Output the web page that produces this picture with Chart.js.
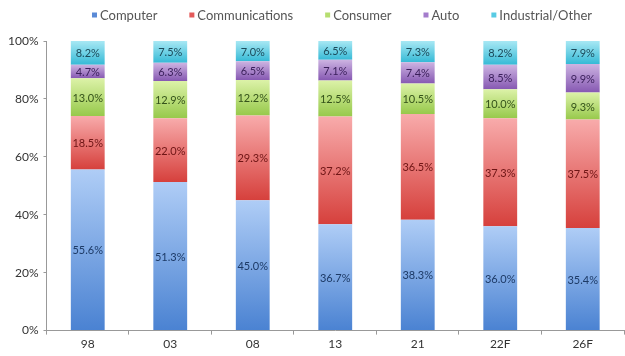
<!DOCTYPE html>
<html>
<head>
<meta charset="utf-8">
<script src="https://cdn.jsdelivr.net/npm/chart.js@4.4.1/dist/chart.umd.min.js"></script>
<style>
  html, body { margin: 0; padding: 0; background: #fff; }
  #wrap { width: 625px; height: 356px; }
</style>
</head>
<body>
<div id="wrap"><canvas id="cuota-chart" width="625" height="356"></canvas></div>
<script>
// categorías (años) y participación de cada segmento en %
const anios = ['98', '03', '08', '13', '21', '22F', '26F'];
const computer = [55.6, 51.3, 45.0, 36.7, 38.3, 36.0, 35.4];
const communications = [18.5, 22.0, 29.3, 37.2, 36.5, 37.3, 37.5];
const consumer = [13.0, 12.9, 12.2, 12.5, 10.5, 10.0, 9.3];
const auto = [4.7, 6.3, 6.5, 7.1, 7.4, 8.5, 9.9];
const industrial = [8.2, 7.5, 7.0, 6.5, 7.3, 8.2, 7.9];
const yTicks = [0, 20, 40, 60, 80, 100];

const series = [
    { label: 'Computer', data: computer, top: '#afcdf6', bottom: '#4a82d2', legend: '#5a8ad6', text: '#1d3a66' },
    { label: 'Communications', data: communications, top: '#f8abab', bottom: '#d6403c', legend: '#e45a5a', text: '#6e1515' },
    { label: 'Consumer', data: consumer, top: '#dcf2a8', bottom: '#97c94b', legend: '#b6de70', text: '#34521a' },
    { label: 'Auto', data: auto, top: '#cdb4e2', bottom: '#8658b2', legend: '#a47ccc', text: '#3a1f5a' },
    { label: 'Industrial/Other', data: industrial, top: '#a8e8f4', bottom: '#36bad6', legend: '#58cbe4', text: '#1c4a5a' }
];

// degradado vertical dentro de cada segmento apilado
const gradiente = (ctx, s, i) => {
    const chart = ctx.chart;
    if (!chart.chartArea || ctx.dataIndex === undefined) return s.legend;
    const y = chart.scales.y;
    let base = 0;
    for (let k = 0; k < i; k++) base += series[k].data[ctx.dataIndex];
    const top = y.getPixelForValue(base + s.data[ctx.dataIndex]);
    const bottom = y.getPixelForValue(base);
    const g = chart.ctx.createLinearGradient(0, top, 0, bottom);
    g.addColorStop(0, s.top);
    g.addColorStop(1, s.bottom);
    return g;
};

// etiquetas de porcentaje centradas en cada segmento
const etiquetas = {
    id: 'etiquetas',
    afterDatasetsDraw(chart) {
        const c = chart.ctx;
        c.save();
        c.font = '11px Lato';
        c.textAlign = 'center';
        c.textBaseline = 'middle';
        chart.data.datasets.forEach((ds, i) => {
            const meta = chart.getDatasetMeta(i);
            meta.data.forEach((bar, j) => {
                c.fillStyle = series[i].text;
                c.fillText(ds.data[j].toFixed(1) + '%', bar.x, (bar.y + bar.base) / 2 + 1);
            });
        });
        c.restore();
    }
};

// leyenda compacta arriba: cuadrito pegado al texto
const leyenda = {
    id: 'leyenda',
    afterDraw(chart) {
        const c = chart.ctx;
        const caja = 5, sep = 3, hueco = 32, centroX = 342, centroY = 16;
        c.save();
        c.font = '13px Lato';
        c.textBaseline = 'middle';
        const anchos = series.map(s => caja + sep + c.measureText(s.label).width);
        const total = anchos.reduce((a, b) => a + b, 0) + hueco * (series.length - 1);
        let x = centroX - total / 2;
        series.forEach((s, i) => {
            c.fillStyle = s.legend;
            c.fillRect(x, centroY - caja / 2 - 1, caja, caja);
            c.fillStyle = '#555';
            c.fillText(s.label, x + caja + sep, centroY);
            x += anchos[i] + hueco;
        });
        c.restore();
    }
};

new Chart(document.getElementById('cuota-chart'), {
    type: 'bar',
    data: {
        labels: anios,
        datasets: series.map((s, i) => ({
            label: s.label,
            data: s.data,
            backgroundColor: ctx => gradiente(ctx, s, i),
            borderWidth: 0,
            categoryPercentage: 1,
            barPercentage: 0.41
        }))
    },
    options: {
        responsive: false,
        animation: false,
        layout: { padding: { top: 41, right: 1, left: 3, bottom: 3 } },
        scales: {
            x: {
                stacked: true,
                grid: { display: true, drawOnChartArea: false, offset: true, tickLength: 4, color: '#999' },
                border: { color: '#999' },
                ticks: { color: '#333', font: { family: 'Lato', size: 12 }, padding: 2 }
            },
            y: {
                stacked: true,
                min: 0,
                max: 100,
                afterBuildTicks: axis => { axis.ticks = yTicks.map(v => ({ value: v })); },
                grid: { display: true, drawOnChartArea: false, tickLength: 3, color: '#999' },
                border: { color: '#999' },
                ticks: {
                    color: '#333',
                    font: { family: 'Lato', size: 12 },
                    padding: 5,
                    callback: v => v + '%'
                }
            }
        },
        plugins: {
            legend: { display: false },
            tooltip: { enabled: false }
        }
    },
    plugins: [etiquetas, leyenda]
});
</script>
</body>
</html>
